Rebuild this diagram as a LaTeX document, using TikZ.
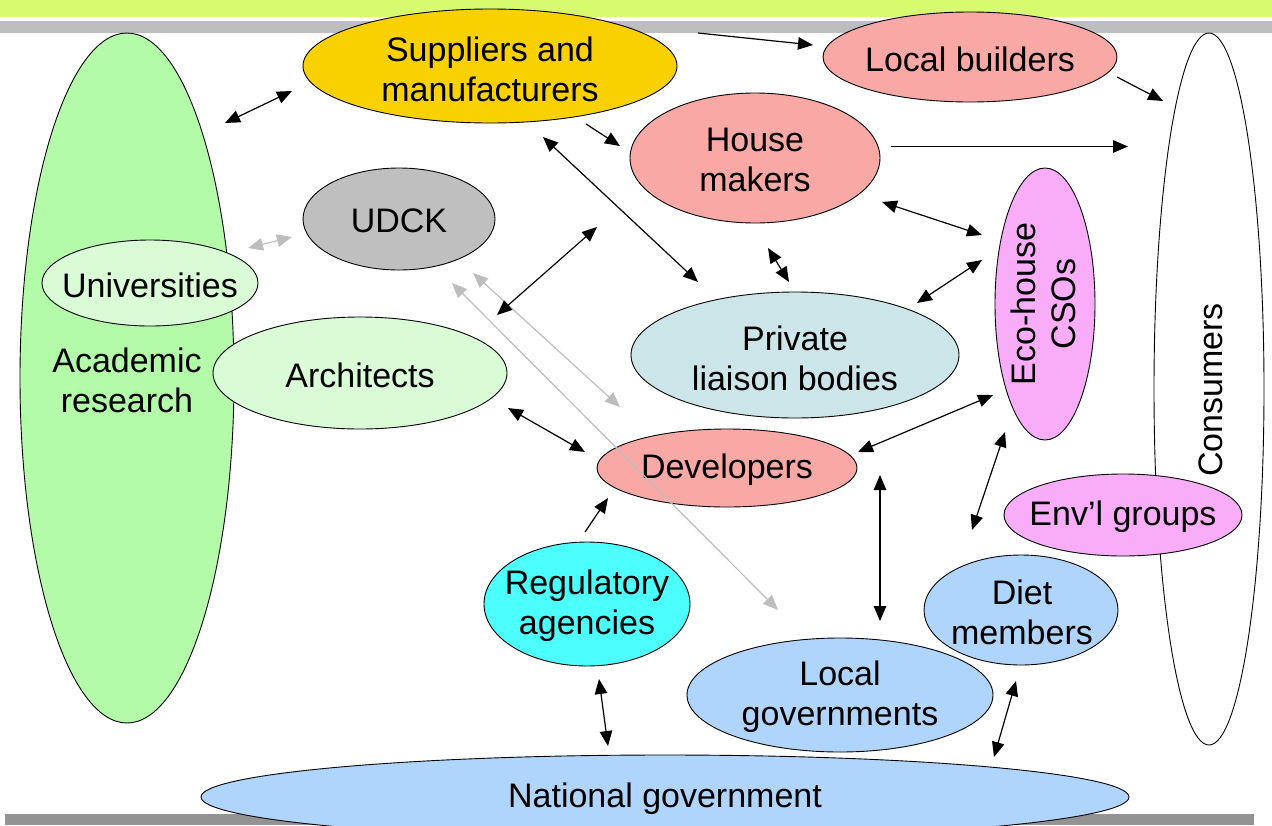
\documentclass[tikz,border=0pt]{standalone}
\usepackage{fontspec}
\setmainfont{Liberation Sans}
\usetikzlibrary{arrows.meta,shapes.geometric}
\definecolor{bandtop}{HTML}{D8FA6E}
\definecolor{bandgray}{HTML}{BEBEBE}
\definecolor{bandbot}{HTML}{939393}
\definecolor{acgreen}{HTML}{B3FBA8}
\definecolor{ltgreen}{HTML}{D9FBD6}
\definecolor{gold}{HTML}{FAD100}
\definecolor{salmon}{HTML}{F9A9A5}
\definecolor{udck}{HTML}{BFBFBF}
\definecolor{liaison}{HTML}{CCE5E8}
\definecolor{pink}{HTML}{F9ADF9}
\definecolor{cyanreg}{HTML}{4DFEFE}
\definecolor{govblue}{HTML}{B0D5FC}
\definecolor{garrow}{HTML}{BDBDBD}
\tikzset{
  ell/.style={ellipse, draw=black, line width=0.9pt, inner sep=0pt},
  txt/.style={align=center, font=\fontsize{34}{40}\selectfont, inner sep=0pt},
  bi/.style={line width=1.2pt, {Triangle[length=15pt,width=12.5pt]}-{Triangle[length=15pt,width=12.5pt]}},
  uni/.style={line width=1.2pt, -{Triangle[length=15pt,width=12.5pt]}},
  gbi/.style={line width=1.2pt, draw=garrow, {Triangle[length=15pt,width=12.5pt]}-{Triangle[length=15pt,width=12.5pt]}},
}
\begin{document}
\begin{tikzpicture}[x=1pt,y=-1pt]
\useasboundingbox (0,0) rectangle (1272,825);
\begin{scope}
\clip (0,0) rectangle (1272,825);
% bands
\fill[bandtop] (0,0) rectangle (1272,17);
\fill[bandgray] (0,20.5) rectangle (1272,32.5);
\fill[bandbot] (5,814) rectangle (1254,825);
% ellipses
\node[ell, fill=acgreen, minimum width=214pt, minimum height=690pt] (acad) at (127,378) {};
\node[ell, fill=ltgreen, minimum width=216pt, minimum height=86pt] (univ) at (150,283) {};
\node[ell, fill=ltgreen, minimum width=294pt, minimum height=112pt] (arch) at (360,373) {};
\node[ell, fill=gold, minimum width=374pt, minimum height=114pt] (supp) at (490,66) {};
\node[ell, fill=salmon, minimum width=294pt, minimum height=90pt] (lbuild) at (970,57) {};
\node[ell, fill=white, minimum width=110pt, minimum height=712pt] (cons) at (1209,389) {};
\node[ell, fill=salmon, minimum width=250pt, minimum height=130pt] (house) at (755,158) {};
\node[ell, fill=udck, minimum width=192pt, minimum height=102pt] (udck) at (399,219) {};
\node[ell, fill=pink, minimum width=100pt, minimum height=272pt] (eco) at (1045,304) {};
\node[ell, fill=liaison, minimum width=328pt, minimum height=126pt] (priv) at (795,355) {};
\node[ell, fill=salmon, minimum width=260pt, minimum height=78pt] (dev) at (727,468) {};
\node[ell, fill=pink, minimum width=238pt, minimum height=82pt] (env) at (1123,515) {};
\node[ell, fill=cyanreg, minimum width=206pt, minimum height=124pt] (reg) at (587,604) {};
\node[ell, fill=govblue, minimum width=194pt, minimum height=110pt] (diet) at (1021,610) {};
\node[ell, fill=govblue, minimum width=306pt, minimum height=114pt] (lgov) at (840,695) {};
\node[ell, fill=govblue, minimum width=928pt, minimum height=84pt] (natl) at (665,797) {};
\end{scope}
% texts
\node[txt] at (127,380) {Academic\\research};
\node[txt] at (150,285) {Universities};
\node[txt] at (360,375) {Architects};
\node[txt] at (490,69) {Suppliers and\\manufacturers};
\node[txt] at (970,59) {Local builders};
\node[txt, rotate=90] at (1211,390) {Consumers};
\node[txt] at (755,160) {House\\makers};
\node[txt] at (399,221) {UDCK};
\node[txt, rotate=90] at (1043,304) {Eco-house\\CSOs};
\node[txt] at (795,358) {Private\\liaison bodies};
\node[txt] at (727,470) {Developers};
\node[txt] at (1123,517) {Env’l groups};
\node[txt] at (587,606) {Regulatory\\agencies};
\node[txt] at (1022,612) {Diet\\members};
\node[txt] at (840,697) {Local\\governments};
\node[txt] at (665,799) {National government};
% arrow end points
\coordinate (a1) at (225,123); \coordinate (b1) at (292,91);
\coordinate (a2) at (698,33); \coordinate (b2) at (813,45);
\coordinate (a3) at (1117,77); \coordinate (b3) at (1163,101);
\coordinate (a4) at (586,124); \coordinate (b4) at (620,146);
\coordinate (a5) at (891,146.5); \coordinate (b5) at (1128,146.5);
\coordinate (a6) at (543,137); \coordinate (b6) at (698,282);
\coordinate (a7) at (248,248); \coordinate (b7) at (292,237);
\coordinate (a8) at (597,227); \coordinate (b8) at (497,315);
\coordinate (a9) at (473,273); \coordinate (b9) at (620,407);
\coordinate (a10) at (452,283); \coordinate (b10) at (778,610);
\coordinate (a11) at (768,248); \coordinate (b11) at (789,282);
\coordinate (a12) at (882,202); \coordinate (b12) at (982,235);
\coordinate (a13) at (917,303); \coordinate (b13) at (982,260);
\coordinate (a14) at (508,408); \coordinate (b14) at (585,452);
\coordinate (a15) at (858,452); \coordinate (b15) at (993,395);
\coordinate (a16) at (1005,432); \coordinate (b16) at (972,530);
\coordinate (a17) at (880,475); \coordinate (b17) at (880,621);
\coordinate (a18) at (585,532); \coordinate (b18) at (608,498);
\coordinate (a19) at (599,679); \coordinate (b19) at (608,746);
\coordinate (a20) at (1016,681); \coordinate (b20) at (994,757);
% arrows
\draw[gbi] (a7) -- (b7);
\draw[gbi] (a9) -- (b9);
\draw[gbi] (a10) -- (b10);
\draw[bi] (a1) -- (b1);
\draw[uni] (a2) -- (b2);
\draw[uni] (a3) -- (b3);
\draw[uni] (a4) -- (b4);
\draw[uni] (a5) -- (b5);
\draw[bi] (a6) -- (b6);
\draw[bi] (a8) -- (b8);
\draw[bi] (a11) -- (b11);
\draw[bi] (a12) -- (b12);
\draw[bi] (a13) -- (b13);
\draw[bi] (a14) -- (b14);
\draw[bi] (a15) -- (b15);
\draw[bi] (a16) -- (b16);
\draw[bi] (a17) -- (b17);
\draw[uni] (a18) -- (b18);
\draw[bi] (a19) -- (b19);
\draw[bi] (a20) -- (b20);
\end{tikzpicture}
\end{document}
